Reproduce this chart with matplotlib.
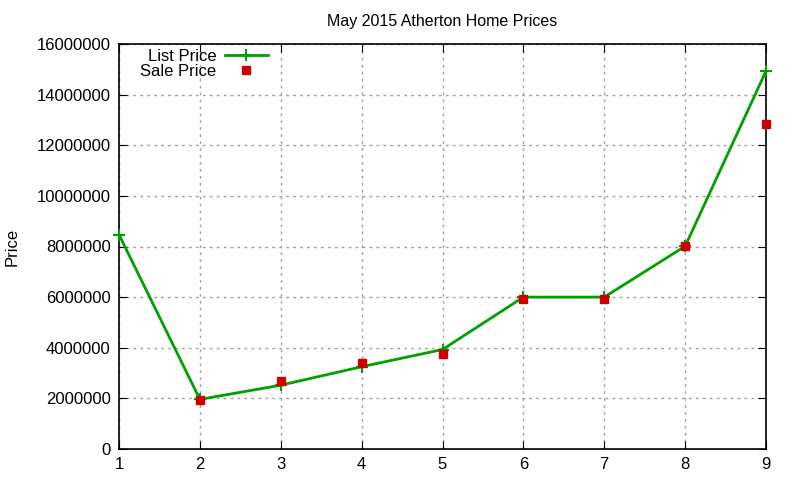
import numpy as np
import matplotlib
matplotlib.use("Agg")
import matplotlib.pyplot as plt

plt.rcParams['font.family'] = ['Liberation Sans', 'DejaVu Sans']

# data
homes = [1, 2, 3, 4, 5, 6, 7, 8, 9]
list_price = [8470000, 1960000, 2520000, 3250000, 3930000, 6000000, 6000000, 8010000, 14930000]
sale_price = [np.nan, 1950000, 2700000, 3380000, 3750000, 5920000, 5920000, 8010000, 12820000]
y_ticks = [0, 2000000, 4000000, 6000000, 8000000, 10000000, 12000000, 14000000, 16000000]

fig = plt.figure(figsize=(8, 4.8), dpi=100)
ax = fig.add_axes([119 / 800, 1 - 449 / 480, (766 - 119) / 800, (449 - 44) / 480])

ax.plot(homes, list_price, color='#00a000', lw=2, marker='+', ms=9, mew=1.5,
        label='List Price', zorder=3, clip_on=False)
ax.plot(homes, sale_price, ls='none', marker='s', ms=6, color='#cc0000',
        label='Sale Price', zorder=4, clip_on=False)

ax.set_xlim(1, 9)
ax.set_ylim(0, 16000000)
ax.set_xticks(homes)
ax.set_yticks(y_ticks)
ax.set_yticklabels([str(v) for v in y_ticks])
ax.tick_params(direction='in', length=6, labelsize=12, top=True, right=True, pad=6)
ax.grid(True, color='#a0a0a0', ls=(0, (2, 3)), lw=1)
for s in ax.spines.values():
    s.set_linewidth(1.2)

ax.set_ylabel('Price', fontsize=12, labelpad=12)
ax.set_title('May 2015 Atherton Home Prices', fontsize=11.5, pad=13)

ax.legend(loc='upper left', bbox_to_anchor=(0.015, 1.017), frameon=False, markerfirst=False,
          fontsize=12, handlelength=2.6, labelspacing=0.0, handletextpad=0.5,
          borderaxespad=0.3)

fig.savefig('out.png', dpi=100)
